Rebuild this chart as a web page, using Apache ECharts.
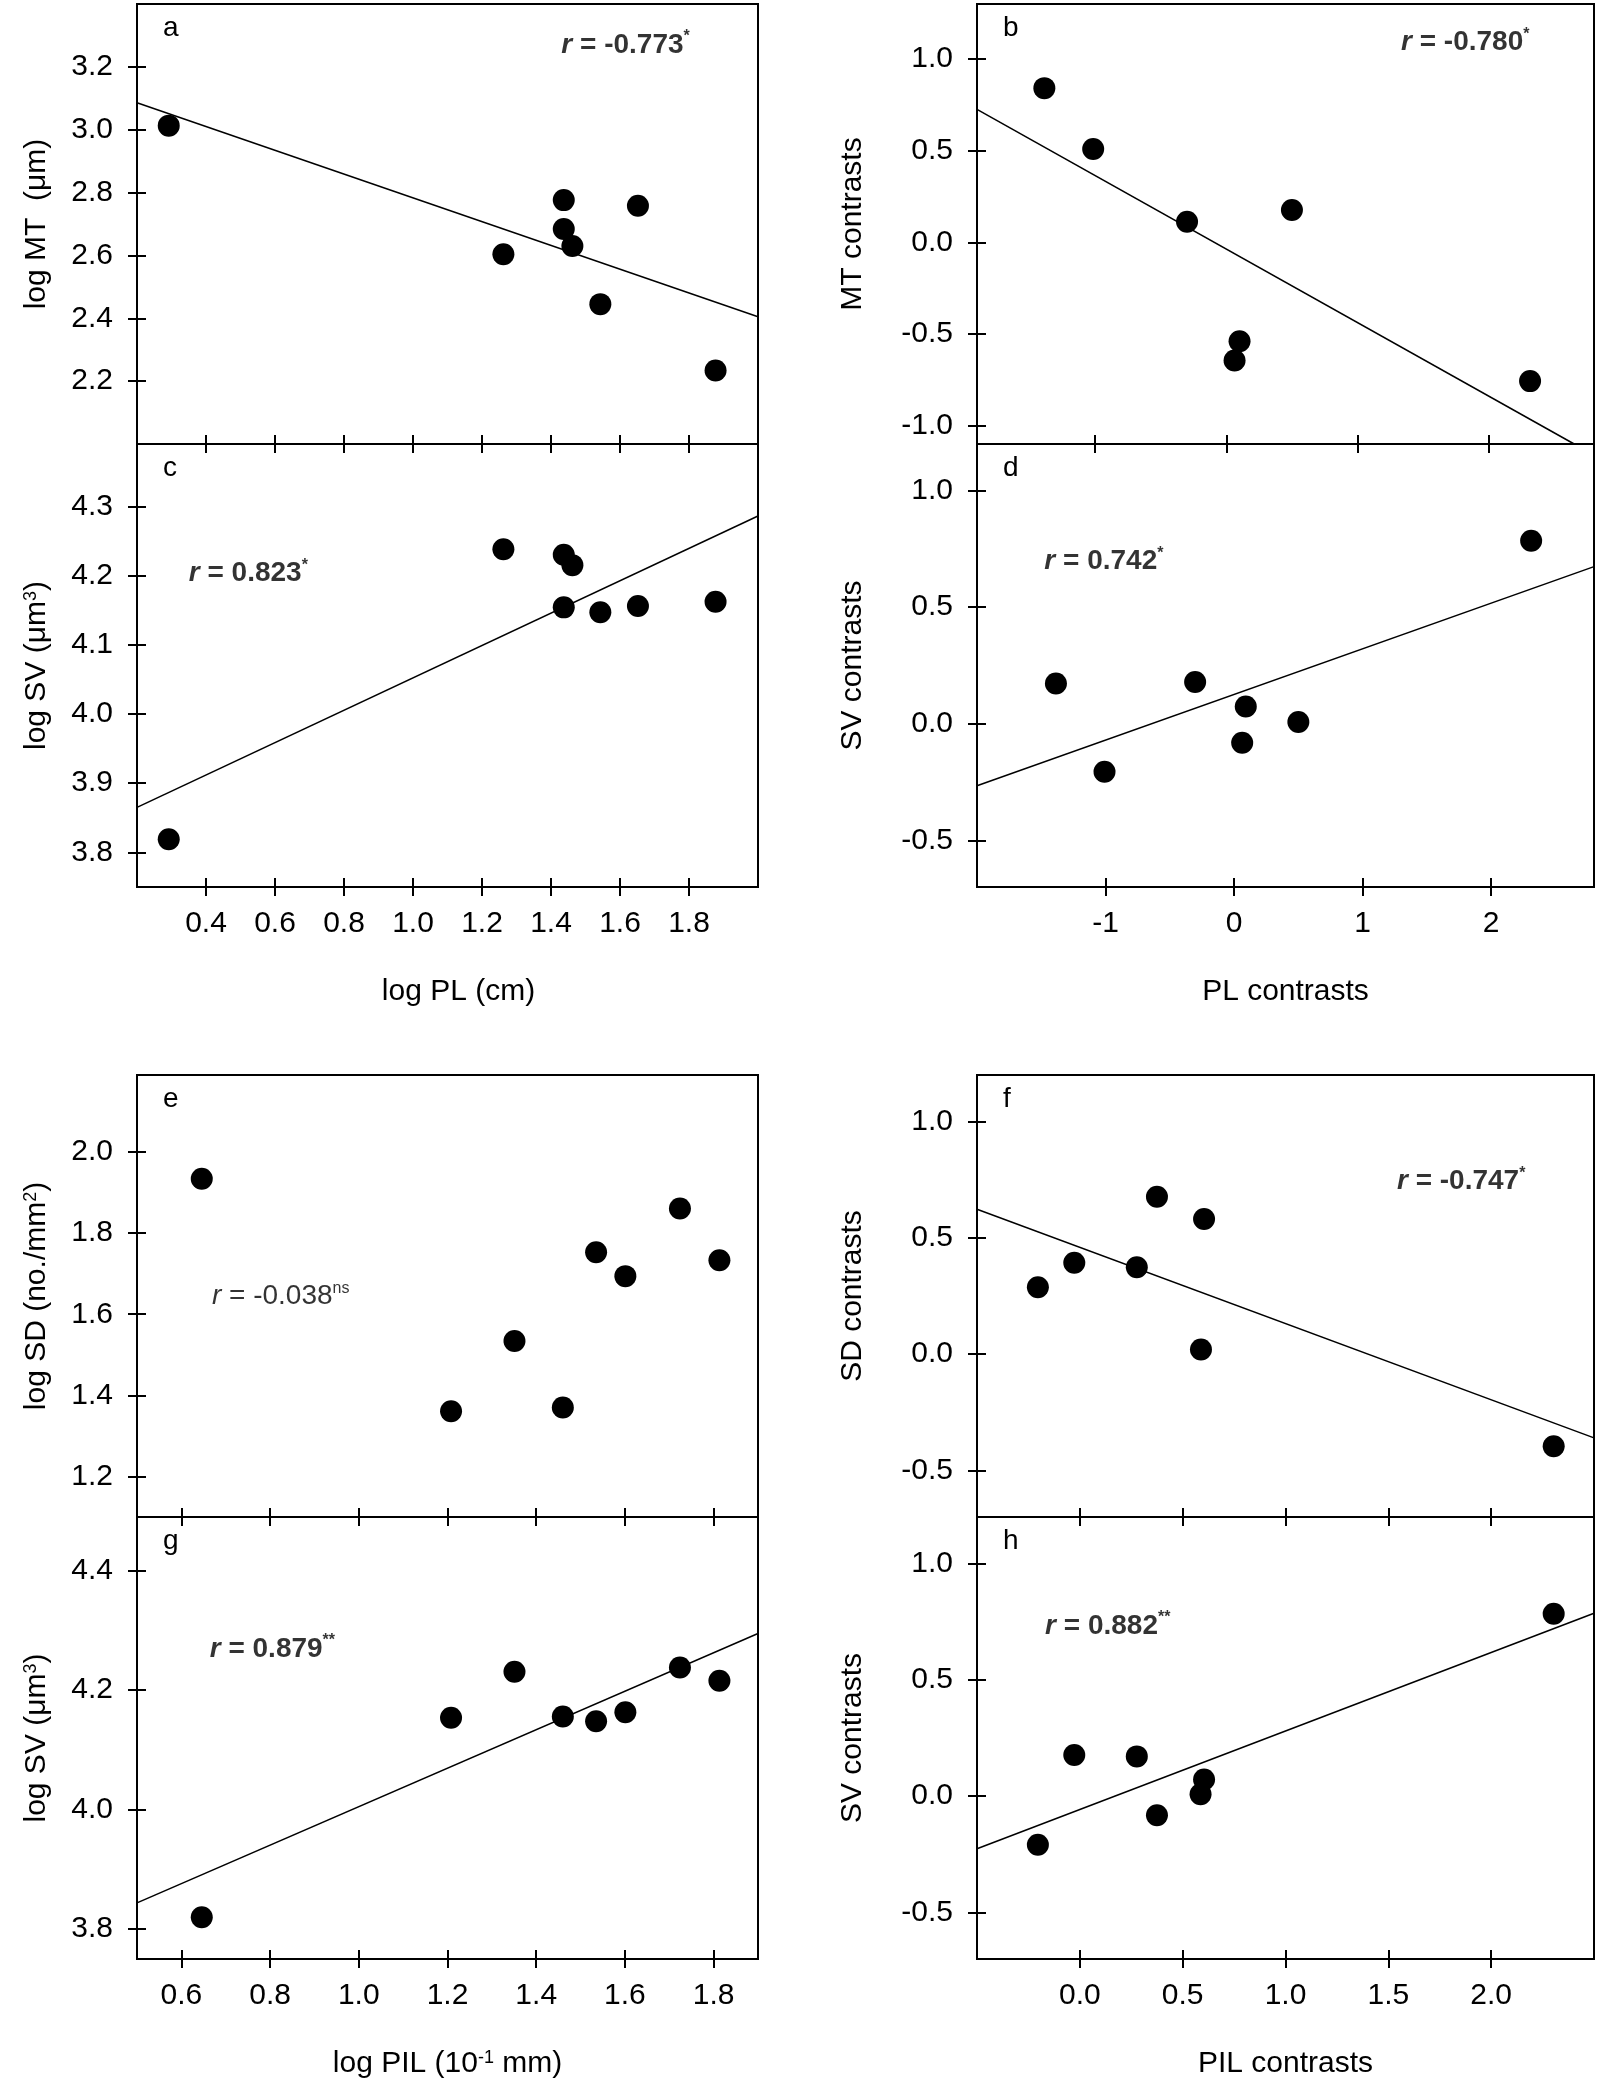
<!DOCTYPE html>
<html>
<head>
<meta charset="utf-8">
<script src="https://cdn.jsdelivr.net/npm/echarts@6/dist/echarts.min.js"></script>
<style>
  html, body { margin: 0; padding: 0; background: #fff; }
  #chart { width: 1598px; height: 2089px; }
</style>
</head>
<body>
<div id="chart"></div>
<script>
// ---------- DATA ----------
// Panel a: log PL vs log MT
const aX = [0.292, 1.262, 1.437, 1.437, 1.462, 1.543, 1.652, 1.877];
const aY = [3.013, 2.604, 2.776, 2.684, 2.630, 2.445, 2.758, 2.234];
const aLineX = [0.2, 2.0];
const aLineY = [3.086, 2.405];
// Panel b: PL contrasts vs MT contrasts
const bX = [-1.387, -1.015, -0.300, 0.499, 0.100, 0.062, 2.313];
const bY = [0.841, 0.509, 0.112, 0.176, -0.540, -0.645, -0.757];
const bLineX = [-1.9, 2.649];
const bLineY = [0.725, -1.10];
// Panel c: log PL vs log SV
const cX = [0.292, 1.262, 1.437, 1.462, 1.437, 1.543, 1.652, 1.877];
const cY = [3.819, 4.238, 4.230, 4.215, 4.154, 4.147, 4.156, 4.162];
const cLineX = [0.2, 2.0];
const cLineY = [3.865, 4.286];
// Panel d: PL contrasts vs SV contrasts
const dX = [-1.386, -1.008, -0.303, 0.091, 0.063, 0.500, 2.311];
const dY = [0.173, -0.206, 0.179, 0.074, -0.081, 0.008, 0.785];
const dLineX = [-2.0, 2.8];
const dLineY = [-0.266, 0.674];
// Panel e: log PIL vs log SD
const eX = [0.646, 1.208, 1.351, 1.460, 1.535, 1.601, 1.724, 1.813];
const eY = [1.934, 1.361, 1.534, 1.370, 1.753, 1.694, 1.861, 1.733];
// Panel f: PIL contrasts vs SD contrasts
const fX = [-0.204, -0.027, 0.277, 0.375, 0.604, 0.589, 2.304];
const fY = [0.288, 0.393, 0.374, 0.677, 0.581, 0.020, -0.396];
const fLineX = [-0.5, 2.5];
const fLineY = [0.623, -0.360];
// Panel g: log PIL vs log SV
const gX = [0.646, 1.208, 1.351, 1.460, 1.535, 1.601, 1.724, 1.813];
const gY = [3.820, 4.154, 4.231, 4.156, 4.148, 4.163, 4.238, 4.216];
const gLineX = [0.5, 1.9];
const gLineY = [3.844, 4.295];
// Panel h: PIL contrasts vs SV contrasts
const hX = [-0.204, -0.027, 0.277, 0.375, 0.604, 0.587, 2.304];
const hY = [-0.209, 0.177, 0.171, -0.082, 0.072, 0.008, 0.784];
const hLineX = [-0.5, 2.5];
const hLineY = [-0.226, 0.786];

// Tick values
const ticksPL = [0.4, 0.6, 0.8, 1.0, 1.2, 1.4, 1.6, 1.8];
const ticksMT = [2.2, 2.4, 2.6, 2.8, 3.0, 3.2];
const ticksSVc = [3.8, 3.9, 4.0, 4.1, 4.2, 4.3];
const ticksPLcon = [-1, 0, 1, 2];
const ticksMTcon = [-1.0, -0.5, 0.0, 0.5, 1.0];
const ticksSVcon = [-0.5, 0.0, 0.5, 1.0];
const ticksPIL = [0.6, 0.8, 1.0, 1.2, 1.4, 1.6, 1.8];
const ticksSD = [1.2, 1.4, 1.6, 1.8, 2.0];
const ticksSVg = [3.8, 4.0, 4.2, 4.4];
const ticksPILcon = [0.0, 0.5, 1.0, 1.5, 2.0];
const ticksSDcon = [-0.5, 0.0, 0.5, 1.0];

// Correlation texts
const rTexts = {
  a: ['-0.773', '*'], b: ['-0.780', '*'], c: ['0.823', '*'], d: ['0.742', '*'],
  e: ['-0.038', 'ns'], f: ['-0.747', '*'], g: ['0.879', '**'], h: ['0.882', '**']
};

// ---------- LAYOUT / STYLE ----------
const FONT = '"Liberation Sans", Arial, sans-serif';
const TICK_SIZE = 30;

const colL = { left: 137, width: 621 };
const colR = { left: 977, width: 617 };
const rows = { a: [4, 440], c: [444, 443], e: [1075, 442], g: [1517, 442] };

const panels = [
  { id: 'a', col: colL, row: rows.a, x: [0.2, 2.0], y: [2.0, 3.4], xt: ticksPL, yt: ticksMT, xd: 1, yd: 1,
    xs: aX, ys: aY, lx: aLineX, ly: aLineY, xName: '', yName: 'log MT  (\u03bcm)', yGap: 85, xLab: false,
    note: [1.43, 3.27], bold: true },
  { id: 'c', col: colL, row: rows.c, x: [0.2, 2.0], y: [3.75, 4.39], xt: ticksPL, yt: ticksSVc, xd: 1, yd: 1,
    xs: cX, ys: cY, lx: cLineX, ly: cLineY, xName: 'log PL (cm)', xPad: 22, yName: 'log SV (\u03bcm{sup|3})', yGap: 85, xLab: true,
    note: [0.35, 4.203], bold: true },
  { id: 'b', col: colR, row: rows.a, x: [-1.9, 2.8], y: [-1.1, 1.3], xt: ticksPLcon, yt: ticksMTcon, xd: 0, yd: 1,
    xs: bX, ys: bY, lx: bLineX, ly: bLineY, xName: '', yName: 'MT contrasts', yGap: 109, xLab: false,
    note: [1.33, 1.09], bold: true },
  { id: 'd', col: colR, row: rows.c, x: [-2.0, 2.8], y: [-0.7, 1.2], xt: ticksPLcon, yt: ticksSVcon, xd: 0, yd: 1,
    xs: dX, ys: dY, lx: dLineX, ly: dLineY, xName: 'PL contrasts', yName: 'SV contrasts', yGap: 109, xLab: true,
    note: [-1.476, 0.696], bold: true },
  { id: 'e', col: colL, row: rows.e, x: [0.5, 1.9], y: [1.1, 2.19], xt: ticksPIL, yt: ticksSD, xd: 1, yd: 1,
    xs: eX, ys: eY, lx: null, ly: null, xName: '', yName: 'log SD (no./mm{sup|2})', yGap: 85, xLab: false,
    note: [0.669, 1.644], bold: false },
  { id: 'g', col: colL, row: rows.g, x: [0.5, 1.9], y: [3.75, 4.49], xt: ticksPIL, yt: ticksSVg, xd: 1, yd: 1,
    xs: gX, ys: gY, lx: gLineX, ly: gLineY, xName: 'log PIL (10{sup|-1} mm)', yName: 'log SV (\u03bcm{sup|3})', yGap: 85, xLab: true,
    note: [0.664, 4.269], bold: true },
  { id: 'f', col: colR, row: rows.e, x: [-0.5, 2.5], y: [-0.7, 1.2], xt: ticksPILcon, yt: ticksSDcon, xd: 1, yd: 1,
    xs: fX, ys: fY, lx: fLineX, ly: fLineY, xName: '', yName: 'SD contrasts', yGap: 109, xLab: false,
    note: [1.542, 0.742], bold: true },
  { id: 'h', col: colR, row: rows.g, x: [-0.5, 2.5], y: [-0.7, 1.2], xt: ticksPILcon, yt: ticksSVcon, xd: 1, yd: 1,
    xs: hX, ys: hY, lx: hLineX, ly: hLineY, xName: 'PIL contrasts', yName: 'SV contrasts', yGap: 109, xLab: true,
    note: [-0.169, 0.732], bold: true }
];

const TICK = 9;
function nameStyle(pad) {
  return {
    fontFamily: FONT, fontSize: 30, color: '#000', padding: pad ? [0, 0, 0, pad] : 0,
    rich: { sup: { fontFamily: FONT, fontSize: 18, color: '#000', verticalAlign: 'top', lineHeight: 30 } }
  };
}
const tickLine = { color: '#000', width: 2 };

const grids = [], xAxes = [], yAxes = [], series = [], graphics = [];

panels.forEach(function (p, i) {
  grids.push({
    left: p.col.left, top: p.row[0], width: p.col.width, height: p.row[1],
    show: true, borderColor: '#000', borderWidth: 2, backgroundColor: 'transparent'
  });
  const xFmt = function (v) { return Number(v).toFixed(p.xd); };
  const yFmt = function (v) { return Number(v).toFixed(p.yd); };
  // main x axis: labels + outward ticks
  xAxes.push({
    gridIndex: i, type: 'value', position: 'bottom', min: p.x[0], max: p.x[1],
    axisLine: { show: false, onZero: false }, splitLine: { show: false },
    axisTick: { show: true, inside: false, length: TICK, customValues: p.xt, lineStyle: tickLine },
    axisLabel: { show: p.xLab, customValues: p.xt, formatter: xFmt, fontFamily: FONT, fontSize: TICK_SIZE, color: '#000', margin: 22 },
    name: p.xName, nameLocation: 'middle', nameGap: 90, nameTextStyle: nameStyle(p.xPad)
  });
  // inward ticks
  xAxes.push({
    gridIndex: i, type: 'value', position: 'bottom', min: p.x[0], max: p.x[1],
    axisLine: { show: false, onZero: false }, splitLine: { show: false }, axisLabel: { show: false },
    axisTick: { show: true, inside: true, length: TICK, customValues: p.xt, lineStyle: tickLine }
  });
  yAxes.push({
    gridIndex: i, type: 'value', position: 'left', min: p.y[0], max: p.y[1],
    axisLine: { show: false, onZero: false }, splitLine: { show: false },
    axisTick: { show: true, inside: false, length: TICK, customValues: p.yt, lineStyle: tickLine },
    axisLabel: { show: true, customValues: p.yt, formatter: yFmt, fontFamily: FONT, fontSize: TICK_SIZE, color: '#000', margin: 24 },
    name: p.yName, nameLocation: 'middle', nameGap: p.yGap, nameTextStyle: nameStyle(0)
  });
  yAxes.push({
    gridIndex: i, type: 'value', position: 'left', min: p.y[0], max: p.y[1],
    axisLine: { show: false, onZero: false }, splitLine: { show: false }, axisLabel: { show: false },
    axisTick: { show: true, inside: true, length: TICK, customValues: p.yt, lineStyle: tickLine }
  });
  const xi = 2 * i, yi = 2 * i;
  series.push({
    type: 'scatter', xAxisIndex: xi, yAxisIndex: yi, symbol: 'circle', symbolSize: 22,
    itemStyle: { color: '#000', opacity: 1 }, silent: true, z: 3,
    data: p.xs.map(function (v, k) { return [v, p.ys[k]]; })
  });
  if (p.lx) {
    series.push({
      type: 'line', xAxisIndex: xi, yAxisIndex: yi, symbol: 'none', clip: true, silent: true, z: 2,
      lineStyle: { color: '#000', width: 1.5 },
      data: p.lx.map(function (v, k) { return [v, p.ly[k]]; })
    });
  }
  const rt = rTexts[p.id];
  const w = p.bold ? 'bold' : 'normal';
  series.push({
    type: 'scatter', xAxisIndex: xi, yAxisIndex: yi, symbolSize: 0, silent: true, z: 4,
    data: [p.note],
    label: {
      show: true, position: 'right', distance: 0,
      formatter: '{i|r}{n| = ' + rt[0] + '}{s|' + rt[1] + '}',
      rich: {
        i: { fontFamily: FONT, fontSize: 28, fontStyle: 'italic', fontWeight: w, color: '#000', lineHeight: 32 },
        n: { fontFamily: FONT, fontSize: 28, fontWeight: w, color: '#000', lineHeight: 32 },
        s: { fontFamily: FONT, fontSize: 16, fontWeight: w, color: '#000', verticalAlign: 'top', lineHeight: 32 }
      }
    }
  });
  graphics.push({
    type: 'text', left: p.col.left + 26, top: p.row[0] + 10, silent: true,
    style: { text: p.id, font: '28px ' + FONT, fill: '#000' }
  });
});

const chart = echarts.init(document.getElementById('chart'), null, { renderer: 'canvas' });
chart.setOption({
  backgroundColor: '#fff',
  animation: false,
  grid: grids,
  xAxis: xAxes,
  yAxis: yAxes,
  series: series,
  graphic: graphics
});
</script>
</body>
</html>
